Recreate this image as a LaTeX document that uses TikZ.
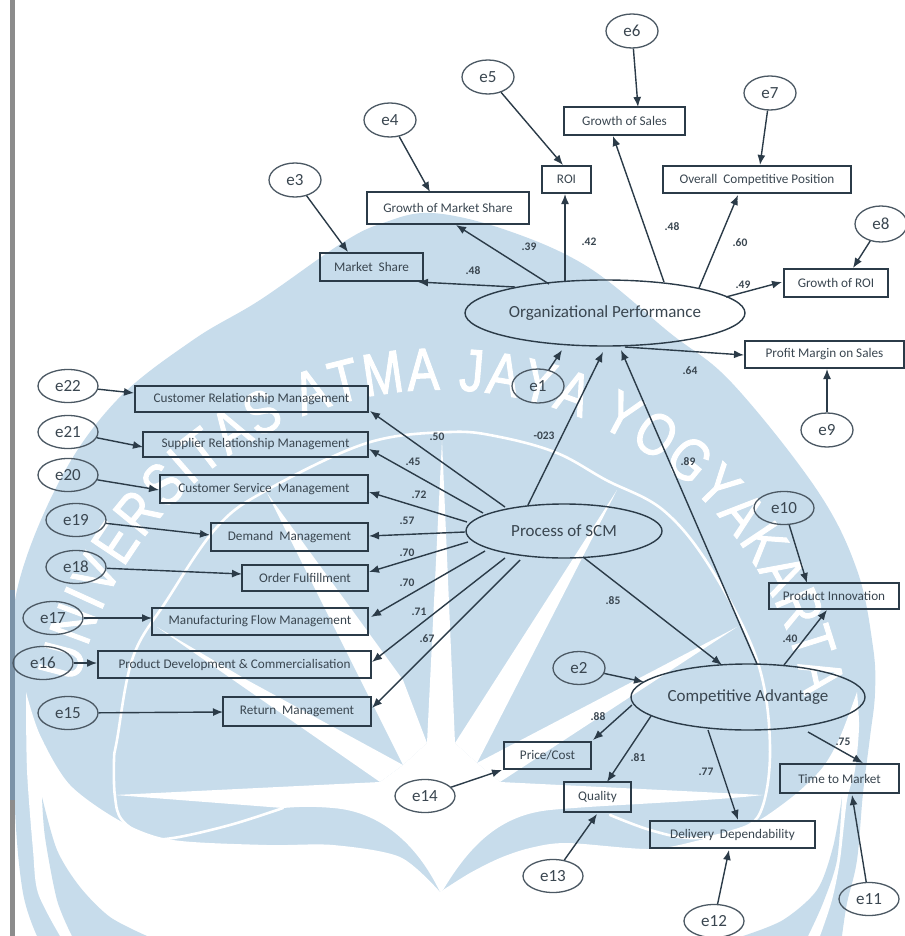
\documentclass[tikz,border=0pt]{standalone}
\usepackage{fontspec}
\setmainfont{Carlito}
\newfontfamily\wmfont[FakeStretch=0.8,FakeBold=1.6]{Liberation Sans}
\usetikzlibrary{arrows.meta,shapes.geometric,decorations.text}
\definecolor{wm}{HTML}{C7DCEB}
\definecolor{ink}{HTML}{2B3B48}
\definecolor{txt}{HTML}{3A4650}
\definecolor{barblue}{HTML}{7B93A8}
\tikzset{
 x=1pt,y=-1pt,
 arr/.style={draw=ink,line width=1.4pt,-{Latex[length=10pt,width=8pt]}},
 boxn/.style={draw=ink,line width=1.4pt,rectangle,inner sep=0pt,text=txt,font=\fontsize{13.2}{14}\selectfont},
 errn/.style={draw=ink!85,line width=1.3pt,ellipse,inner sep=0pt,minimum width=56pt,minimum height=33pt,text=txt,font=\fontsize{17}{17}\selectfont},
 latn/.style={draw=ink,line width=1.4pt,ellipse,inner sep=0pt,text=txt,font=\fontsize{17}{17}\selectfont},
 lab/.style={inner sep=0pt,text=txt,font=\bfseries\fontsize{11.5}{12}\selectfont},
 wline/.style={draw=white,line width=2.6pt,line cap=round},
}
\begin{document}
\begin{tikzpicture}
\useasboundingbox (0,0) rectangle (904,936);
\begin{scope}
\clip (0,0) rectangle (904,936);
% watermark shield
\fill[wm] plot[smooth,tension=.6] coordinates {(37,936)(23,893)(15,810)(13,690)(17,590)(60,480)(117,400)(193,340)(260,300)(342,243)(383,223)(432,213)(506,230)(588,267)(670,333)(732,383)(817,490)(857,570)(873,647)(875,693)(870,737)(863,793)(857,860)(847,903)(842,936)} -- cycle;
% lower white region
\fill[white] plot[smooth,tension=.5] coordinates {(26,692)(40,735)(70,785)(122,822)(173,840)(267,845)(333,845)(400,857)(440,892)} -- plot[smooth,tension=.5] coordinates {(443,890)(470,873)(500,858)(530,848)(567,843)(650,849)(700,840)(740,828)(763,818)(797,793)(823,767)(840,737)(857,692)} -- plot[smooth,tension=.5] coordinates {(857,692)(859,727)(855,770)(847,800)(840,860)(832,900)(820,936)} -- plot[smooth,tension=.5] coordinates {(60,936)(38,893)(33,850)(27,770)(26,692)} -- cycle;
\fill[wm] plot[smooth,tension=.5] coordinates {(42,797)(57,850)(80,887)(110,917)(147,936)} -- plot[smooth,tension=.5] coordinates {(72,936)(57,900)(45,837)(42,797)} -- cycle;
\fill[wm] plot[smooth,tension=.5] coordinates {(842,797)(833,847)(817,890)(783,920)(743,936)} -- plot[smooth,tension=.5] coordinates {(808,936)(823,903)(837,860)(842,797)} -- cycle;
% central white band
\fill[white] (115,795) -- (380,782) -- (403,765) -- (427,743) -- (455,743) -- (477,763) -- (500,782) -- (763,795)
  .. controls (700,802) and (600,805) .. (550,810) .. controls (500,815) and (470,845) .. (443,890) -- (440,892)
  .. controls (420,850) and (385,812) .. (333,808) .. controls (310,806) and (295,807) .. (283,808) -- cycle;
% rays
\fill[white] (157,627) -- (247,680) -- (403,765) -- (380,782) -- cycle;
\fill[white] (267,493) -- (403,680) -- (427,743) -- (403,765) -- cycle;
\fill[white] (442,440) -- (455,743) -- (427,743) -- cycle;
\fill[white] (617,490) -- (477,763) -- (455,743) -- cycle;
\fill[white] (737,627) -- (500,782) -- (477,763) -- cycle;
% white arc
\draw[wline] plot[smooth,tension=.6] coordinates {(283,808)(230,825)(173,838)(147,837)(122,820)(115,797)(114,760)(117,740)(133,657)(167,600)(217,527)(267,490)(367,443)(450,432)(500,437)(557,453)(606,480)(663,510)(710,567)(757,660)(770,747)(760,813)(730,832)(690,838)(650,830)(610,815)};
% watermark lettering
\path[postaction={decorate,decoration={text along path,text align=fit to path,text={|\wmfont\fontsize{60}{60}\selectfont\color{white}|UNIVERSITAS ATMA JAYA YOGYAKARTA}}}]
  (78,683) arc[start angle=-168,end angle=-10,radius=370];
\end{scope}
\fill[black!45] (10,0) rectangle (15,936);
\fill[barblue] (10,590) rectangle (15,800);
% latent variables
\node[latn,minimum width=280pt,minimum height=66pt] (org) at (605,313) {Organizational Performance};
\node[latn,minimum width=196pt,minimum height=54pt] (scm) at (564,531) {Process of SCM};
\node[latn,minimum width=234pt,minimum height=66pt] (ca) at (748,697) {Competitive Advantage};
% observed variables
\node[boxn,minimum width=233pt,minimum height=26pt] (crm) at (251.5,399) {Customer Relationship Management};
\node[boxn,minimum width=225pt,minimum height=25pt] (srm) at (255.5,444.5) {Supplier Relationship Management};
\node[boxn,minimum width=208pt,minimum height=28pt] (csm) at (264,489) {Customer Service\ \ Management};
\node[boxn,minimum width=157pt,minimum height=28pt] (dem) at (289.5,537) {Demand\ \ Management};
\node[boxn,minimum width=126pt,minimum height=26pt] (ord) at (305,578) {Order Fulfillment};
\node[boxn,minimum width=216pt,minimum height=27pt] (mfg) at (260,621.5) {Manufacturing Flow Management};
\node[boxn,minimum width=273pt,minimum height=27pt] (pdc) at (234.5,664.5) {Product Development \& Commercialisation};
\node[boxn,minimum width=148pt,minimum height=29pt] (ret) at (297,711.5) {Return\ \ Management};
\node[boxn,minimum width=103pt,minimum height=28pt] (ms) at (371.5,267) {Market\ \ Share};
\node[boxn,minimum width=162pt,minimum height=32pt] (gms) at (448,208) {Growth of Market Share};
\node[boxn,minimum width=49pt,minimum height=27pt] (roi) at (566.5,179.5) {ROI};
\node[boxn,minimum width=121pt,minimum height=28pt] (gs) at (624.5,121) {Growth of Sales};
\node[boxn,minimum width=188pt,minimum height=27pt] (ocp) at (757,179.5) {Overall\ \ Competitive Position};
\node[boxn,minimum width=104pt,minimum height=28pt] (groi) at (836,283) {Growth of ROI};
\node[boxn,minimum width=159pt,minimum height=27pt] (pm) at (824.5,354.5) {Profit Margin\ on Sales};
\node[boxn,minimum width=130pt,minimum height=26pt] (pi) at (834,596) {Product Innovation};
\node[boxn,minimum width=87pt,minimum height=27pt] (pc) at (547.5,755.5) {Price/Cost};
\node[boxn,minimum width=67pt,minimum height=30pt] (q) at (597.5,797) {Quality};
\node[boxn,minimum width=165pt,minimum height=27pt] (dd) at (732.5,834.5) {Delivery\ \ Dependability};
\node[boxn,minimum width=119pt,minimum height=29pt] (ttm) at (839.5,778.5) {Time to Market};
% error terms
\node[errn,minimum width=52pt,minimum height=34pt] (e1) at (538,386) {e1};
\node[errn,minimum width=52pt] (e2) at (579,668) {e2};
\node[errn,minimum width=52pt,minimum height=34pt] (e3) at (295,180) {e3};
\node[errn,minimum width=52pt,minimum height=34pt] (e4) at (390,120) {e4};
\node[errn,minimum width=52pt,minimum height=34pt] (e5) at (488,77) {e5};
\node[errn,minimum width=52pt,minimum height=34pt] (e6) at (632,31) {e6};
\node[errn,minimum width=52pt,minimum height=34pt] (e7) at (770,93) {e7};
\node[errn,minimum width=52pt,minimum height=36pt] (e8) at (881,224) {e8};
\node[errn,minimum width=52pt,minimum height=34pt] (e9) at (827,430) {e9};
\node[errn,minimum width=60pt] (e10) at (784,508) {e10};
\node[errn,minimum width=60pt] (e11) at (869,899) {e11};
\node[errn,minimum width=60pt] (e12) at (714,921) {e12};
\node[errn,minimum width=60pt] (e13) at (553,876) {e13};
\node[errn,minimum width=60pt] (e14) at (425,796) {e14};
\node[errn,minimum width=60pt] (e15) at (68,713) {e15};
\node[errn,minimum width=60pt] (e16) at (43,663) {e16};
\node[errn,minimum width=60pt] (e17) at (53,618) {e17};
\node[errn,minimum width=60pt] (e18) at (76,567) {e18};
\node[errn,minimum width=60pt] (e19) at (76,520) {e19};
\node[errn,minimum width=60pt] (e20) at (68,475) {e20};
\node[errn,minimum width=60pt] (e21) at (68,432) {e21};
\node[errn,minimum width=60pt] (e22) at (68,386) {e22};
% connectors
\draw[arr] (e3) -- ([shift={(-23.5,-15)}]ms.center);
\draw[arr] (e4) -- ([shift={(-18,-16)}]gms.center);
\draw[arr] (e5) -- ([shift={(-3.5,-14.5)}]roi.center);
\draw[arr] (e6) -- ([shift={(13.5,-14)}]gs.center);
\draw[arr] (e7) -- ([shift={(3,-14.5)}]ocp.center);
\draw[arr] (e8) -- ([shift={(17,-15)}]groi.center);
\draw[arr] (e9) -- ([shift={(2.5,14.5)}]pm.center);
\draw[arr] (e1) -- ([shift={(-43,37)}]org.center);
\draw[arr] ([shift={(-90,-26)}]org.center) -- ([shift={(46.5,15)}]ms.center);
\draw[arr] ([shift={(-56,-29)}]org.center) -- ([shift={(8,17)}]gms.center);
\draw[arr] ([shift={(-40,-31)}]org.center) -- ([shift={(-1.5,14.5)}]roi.center);
\draw[arr] ([shift={(59,-31)}]org.center) -- ([shift={(-11.5,15)}]gs.center);
\draw[arr] ([shift={(94,-25)}]org.center) -- ([shift={(-19,15.5)}]ocp.center);
\draw[arr] ([shift={(121,-16)}]org.center) -- ([shift={(-54,-1)}]groi.center);
\draw[arr] ([shift={(20,34)}]org.center) -- ([shift={(-80.5,0.5)}]pm.center);
\draw[arr] ([shift={(-36,-26)}]scm.center) -- ([shift={(-2,39)}]org.center);
\draw[arr] ([shift={(9,-33)}]ca.center) -- ([shift={(16,37)}]org.center);
\draw[arr] ([shift={(-59,-24)}]scm.center) -- ([shift={(118.5,12)}]crm.center);
\draw[arr] ([shift={(-81,-18)}]scm.center) -- ([shift={(113.5,4.5)}]srm.center);
\draw[arr] ([shift={(-97,-9)}]scm.center) -- ([shift={(105,3)}]csm.center);
\draw[arr] ([shift={(-99,1)}]scm.center) -- ([shift={(79.5,-1)}]dem.center);
\draw[arr] ([shift={(-96,11)}]scm.center) -- ([shift={(64,-6)}]ord.center);
\draw[arr] ([shift={(-79,20)}]scm.center) -- ([shift={(111,-4.5)}]mfg.center);
\draw[arr] ([shift={(-59,27)}]scm.center) -- ([shift={(137.5,-2.5)}]pdc.center);
\draw[arr] ([shift={(-44,29)}]scm.center) -- ([shift={(75,-3.5)}]ret.center);
\draw[arr] (e22) -- ([shift={(-117.5,-6)}]crm.center);
\draw[arr] (e21) -- ([shift={(-112.5,2.5)}]srm.center);
\draw[arr] (e20) -- ([shift={(-105,1)}]csm.center);
\draw[arr] (e19) -- ([shift={(-79.5,-2)}]dem.center);
\draw[arr] (e18) -- ([shift={(-63,-4)}]ord.center);
\draw[arr] (e17) -- ([shift={(-108,-3.5)}]mfg.center);
\draw[arr] (e16) -- ([shift={(-137.5,-1.5)}]pdc.center);
\draw[arr] (e15) -- ([shift={(-74,0.5)}]ret.center);
\draw[arr] ([shift={(19,26)}]scm.center) -- ([shift={(-26,-32)}]ca.center);
\draw[arr] (e2) -- ([shift={(-104,-15)}]ca.center);
\draw[arr] ([shift={(-116,8)}]ca.center) -- ([shift={(45.5,-15.5)}]pc.center);
\draw[arr] ([shift={(-97,19)}]ca.center) -- ([shift={(9.5,-15)}]q.center);
\draw[arr] ([shift={(-40,33)}]ca.center) -- ([shift={(5.5,-14.5)}]dd.center);
\draw[arr] ([shift={(60,35)}]ca.center) -- ([shift={(23.5,-15.5)}]ttm.center);
\draw[arr] ([shift={(36,-32)}]ca.center) -- ([shift={(-7,14)}]pi.center);
\draw[arr] (e10) -- ([shift={(-27,-13)}]pi.center);
\draw[arr] (e14) -- ([shift={(-45.5,14.5)}]pc.center);
\draw[arr] (e13) -- ([shift={(-0.5,17)}]q.center);
\draw[arr] (e12) -- ([shift={(-3.5,15.5)}]dd.center);
\draw[arr] (e11) -- ([shift={(12.5,16.5)}]ttm.center);
% path coefficients
\node[lab] (l1) at (437,437) {.50};
\node[lab] (l2) at (413,462) {.45};
\node[lab] (l3) at (419,495) {.72};
\node[lab] (l4) at (407,521) {.57};
\node[lab] (l5) at (407,553) {.70};
\node[lab] (l6) at (407,583) {.70};
\node[lab] (l7) at (419,612) {.71};
\node[lab] (l8) at (427,639) {.67};
\node[lab] (l9) at (544,436) {-023};
\node[lab] (l10) at (613,601) {.85};
\node[lab] (l11) at (598,717) {.88};
\node[lab] (l12) at (638,758) {.81};
\node[lab] (l13) at (706,772) {.77};
\node[lab] (l14) at (843,742) {.75};
\node[lab] (l15) at (790,639) {.40};
\node[lab] (l16) at (688,462) {.89};
\node[lab] (l17) at (529,247) {.39};
\node[lab] (l18) at (589,242) {.42};
\node[lab] (l19) at (473,271) {.48};
\node[lab] (l20) at (672,227) {.48};
\node[lab] (l21) at (740,243) {.60};
\node[lab] (l22) at (743,285) {.49};
\node[lab] (l23) at (690,371) {.64};
\end{tikzpicture}
\end{document}
